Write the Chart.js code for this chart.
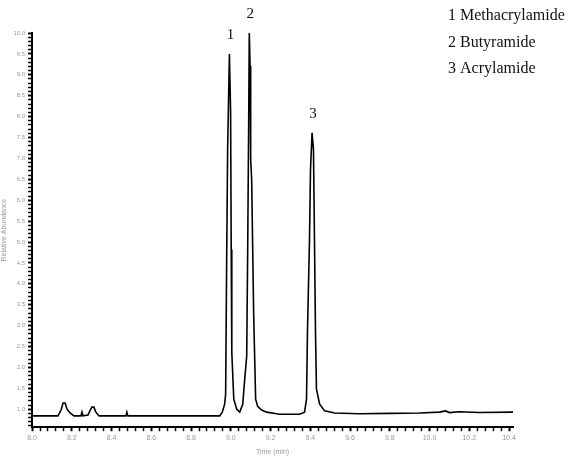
<!DOCTYPE html>
<html>
<head>
<meta charset="utf-8">
<script src="https://cdn.jsdelivr.net/npm/chart.js@4/dist/chart.umd.min.js"></script>
<style>
  html, body { margin: 0; padding: 0; background: #fff; }
  #wrap { width: 572px; height: 456px; position: relative; }
</style>
</head>
<body>
<div id="wrap"><canvas id="chrom"></canvas></div>
<script>
// Retention time (min) and relative abundance
const times = [
    8.000, 8.130, 8.146, 8.156, 8.166, 8.176, 8.191, 8.211, 8.246, 8.251, 8.256,
    8.281, 8.291, 8.301, 8.311, 8.321, 8.337, 8.472, 8.477, 8.482, 8.944, 8.957,
    8.969, 8.974, 8.979, 8.984, 8.993, 8.999, 9.002, 9.005, 9.015, 9.030, 9.045,
    9.060, 9.070, 9.080, 9.085, 9.090, 9.093, 9.097, 9.100, 9.105, 9.115, 9.125,
    9.135, 9.155, 9.180, 9.246, 9.296, 9.346, 9.371, 9.381, 9.386, 9.396, 9.401,
    9.409, 9.416, 9.421, 9.426, 9.431, 9.447, 9.472, 9.522, 9.647, 9.800, 9.950,
    10.050, 10.080, 10.100, 10.150, 10.250, 10.420
];
const abundance = [
    0.84, 0.84, 0.98, 1.15, 1.15, 1.00, 0.91, 0.84, 0.84, 0.93, 0.84,
    0.86, 0.96, 1.05, 1.05, 0.93, 0.84, 0.84, 0.93, 0.84, 0.84, 0.93,
    1.12, 1.36, 4.46, 7.21, 9.50, 8.11, 4.82, 2.36, 1.24, 1.00, 0.93,
    1.12, 1.72, 2.27, 4.82, 7.92, 10.00, 9.21, 6.97, 6.49, 3.27, 1.24,
    1.07, 0.98, 0.93, 0.88, 0.88, 0.88, 0.93, 1.24, 2.91, 5.06, 6.73,
    7.61, 7.21, 5.06, 2.91, 1.48, 1.12, 0.96, 0.91, 0.89, 0.90, 0.91,
    0.93, 0.96, 0.92, 0.94, 0.92, 0.93
];

// Peak numbers and compound names
const peakNumbers = ['1', '2', '3'];
const peakTimes = [8.993, 9.093, 9.409];
const peakHeights = [9.50, 10.00, 7.61];
const compounds = ['Methacrylamide', 'Butyramide', 'Acrylamide'];

// Axis ranges and tick spacing
const xMin = 8.0, xMax = 10.42, xMajor = 0.2, xMinor = 0.04;
const yMin = 0.57, yMax = 10.0, yMajor = 0.5, yMinor = 0.1;

function isMajor(value, step) {
    const r = value / step;
    return Math.abs(r - Math.round(r)) < 1e-4;
}

const peakLabelPlugin = {
    id: 'peakLabels',
    afterDraw(chart) {
        const ctx = chart.ctx;
        const xs = chart.scales.x;
        const ys = chart.scales.y;
        ctx.save();
        ctx.fillStyle = '#111';
        ctx.font = '15px "Liberation Serif", serif';
        ctx.textAlign = 'center';
        ctx.textBaseline = 'alphabetic';
        peakNumbers.forEach((n, i) => {
            const px = xs.getPixelForValue(peakTimes[i]);
            const py = ys.getPixelForValue(peakHeights[i]);
            ctx.fillText(n, px + 1, py - 15);
        });

        // Compound key in the top-right corner
        ctx.textAlign = 'left';
        ctx.font = '16px "Liberation Serif", serif';
        compounds.forEach((name, i) => {
            ctx.fillText(peakNumbers[i] + ' ' + name, 448, 20 + i * 26.5);
        });
        ctx.restore();
    }
};

new Chart(document.getElementById('chrom'), {
    type: 'line',
    data: {
        datasets: [{
            data: times.map((t, i) => ({ x: t, y: abundance[i] })),
            borderColor: '#000',
            borderWidth: 1.6,
            pointRadius: 0,
            tension: 0,
            fill: false
        }]
    },
    options: {
        responsive: true,
        maintainAspectRatio: false,
        animation: false,
        layout: {
            padding: { left: 0, right: 59, top: 33, bottom: 0 }
        },
        plugins: {
            legend: { display: false },
            tooltip: { enabled: false }
        },
        scales: {
            x: {
                type: 'linear',
                min: xMin,
                max: xMax,
                grid: {
                    drawOnChartArea: false,
                    tickLength: 4,
                    tickColor: '#000',
                    tickWidth: ctx => isMajor(ctx.tick.value, xMajor) ? 2 : 1.5
                },
                border: { color: '#000', width: 2 },
                ticks: {
                    stepSize: xMinor,
                    includeBounds: false,
                    autoSkip: false,
                    maxRotation: 0,
                    maxTicksLimit: 200,
                    padding: 3,
                    color: '#999',
                    font: { size: 7 },
                    callback: v => isMajor(v, xMajor) ? v.toFixed(1) : ''
                },
                title: {
                    display: true,
                    text: 'Time (min)',
                    color: '#999',
                    font: { size: 7 },
                    padding: { top: 2, bottom: 0 }
                }
            },
            y: {
                min: yMin,
                max: yMax,
                grid: {
                    drawOnChartArea: false,
                    tickLength: 4,
                    tickColor: '#000',
                    tickWidth: ctx => isMajor(ctx.tick.value, yMajor) ? 2 : 1.5
                },
                border: { color: '#000', width: 2 },
                ticks: {
                    stepSize: yMinor,
                    includeBounds: false,
                    autoSkip: false,
                    maxTicksLimit: 200,
                    padding: 3,
                    color: '#999',
                    font: { size: 6 },
                    callback: v => isMajor(v, yMajor) ? v.toFixed(1) : ''
                },
                title: {
                    display: true,
                    text: 'Relative Abundance',
                    color: '#999',
                    font: { size: 7 },
                    padding: { top: 0, bottom: 2 }
                }
            }
        }
    },
    plugins: [peakLabelPlugin]
});
</script>
</body>
</html>
